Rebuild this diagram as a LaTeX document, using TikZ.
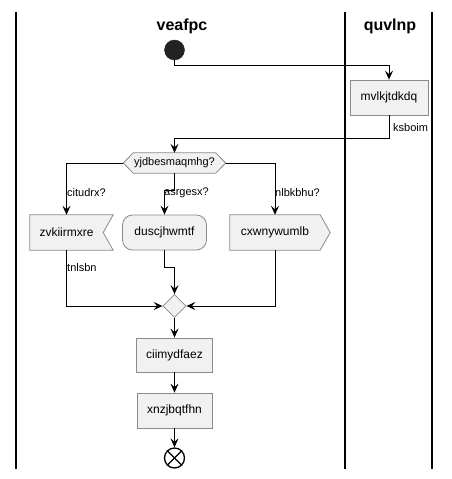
\documentclass[tikz,border=0pt]{standalone}
\usepackage{fontspec}
\setmainfont{Liberation Sans}
\usetikzlibrary{arrows.meta,shapes.geometric,backgrounds}
\definecolor{boxfill}{HTML}{F1F1F1}
\definecolor{boxline}{HTML}{8A8A8A}
\definecolor{startfill}{HTML}{222222}
\tikzset{
  lane/.style={line width=1.4pt,black},
  boxsty/.style={fill=boxfill,draw=boxline,line width=0.8pt},
  actbox/.style={boxsty,rectangle,inner sep=0pt,font=\fontsize{12}{14}\selectfont},
  txtbox/.style={rectangle,inner sep=0pt,font=\fontsize{12}{14}\selectfont},
  lbl/.style={font=\fontsize{11}{13}\selectfont,inner sep=0pt,anchor=west},
  title/.style={font=\bfseries\fontsize{16}{18}\selectfont,inner sep=0pt},
  arr/.style={line width=0.9pt,-{Stealth[length=9pt,width=8pt,inset=3.5pt]}},
}
\begin{document}
\begin{tikzpicture}[x=1pt,y=-1pt]
\useasboundingbox (0,0) rectangle (451,479);
% swimlanes
\draw[lane] (16,12) -- (16,469);
\draw[lane] (345,12) -- (345,469);
\draw[lane] (432,12) -- (432,469);
\node[title] (t1) at (182,26) {veafpc};
\node[title] (t2) at (390,26) {quvlnp};
% nodes
\node[circle,fill=startfill,draw=startfill,minimum size=20pt,inner sep=0pt] (start) at (174.5,50) {};
\node[actbox,minimum width=78pt,minimum height=35pt] (mvl) at (389,97.5) {mvlkjtdkdq};
\node[txtbox,minimum width=102pt,minimum height=20pt,font=\fontsize{11}{13}\selectfont] (dec) at (174.5,163) {yjdbesmaqmhg?};
\node[txtbox,minimum width=73pt,minimum height=35pt] (zvk) at (66.5,232.5) {zvkiirmxre};
\node[actbox,rounded corners=10pt,minimum width=84pt,minimum height=35pt] (dus) at (164.5,232.5) {duscjhwmtf};
\node[txtbox,minimum width=90pt,minimum height=35pt] (cxw) at (275,232.5) {cxwnywumlb};
\node[diamond,boxsty,minimum width=23pt,minimum height=23pt,inner sep=0pt] (merge) at (174.5,306) {};
\node[actbox,minimum width=76pt,minimum height=34pt] (ciim) at (174.5,355) {ciimydfaez};
\node[actbox,minimum width=75pt,minimum height=35pt] (xnz) at (174.5,410.5) {xnzjbqtfhn};
\node[circle,draw=black,line width=1.3pt,minimum size=20pt,inner sep=0pt] (end) at (174.5,458) {};
\draw[line width=1.3pt] (end.north west) -- (end.south east) (end.north east) -- (end.south west);
% custom outlines
\begin{pgfonlayer}{background}
\draw[boxsty] (dec.west) -- ([xshift=10pt]dec.north west) -- ([xshift=-10pt]dec.north east) -- (dec.east) -- ([xshift=-10pt]dec.south east) -- ([xshift=10pt]dec.south west) -- cycle;
\draw[boxsty] (zvk.north west) -- ([xshift=10pt]zvk.north east) -- (zvk.east) -- ([xshift=10pt]zvk.south east) -- (zvk.south west) -- cycle;
\draw[boxsty] (cxw.north west) -- (cxw.north east) -- ([xshift=10pt]cxw.east) -- (cxw.south east) -- (cxw.south west) -- cycle;
\end{pgfonlayer}
% connectors
\draw[arr] (start.south) -- ++(0,5) -| (mvl.north);
\draw[arr] (mvl.south) -- ++(0,23) coordinate (k1) -| (dec.north);
\node[lbl] (lk) at (393,128) {ksboim};
\draw[arr] (dec.west) -| (zvk.north);
\node[lbl] (l1) at (67,193) {citudrx?};
\draw[arr] (dec.south) -- ++(0,17) -| (dus.north);
\node[lbl] (l2) at (164,193) {asrgesx?};
\draw[arr] (dec.east) -| (cxw.north);
\node[lbl] (l3) at (275,193) {nlbkbhu?};
\draw[arr] (zvk.south) |- (merge.west);
\node[lbl] (l4) at (67,268) {tnlsbn};
\draw[arr] (dus.south) -- ++(0,17) -| (merge.north);
\draw[arr] (cxw.south) |- (merge.east);
\draw[arr] (merge.south) -- (ciim.north);
\draw[arr] (ciim.south) -- (xnz.north);
\draw[arr] (xnz.south) -- (end.north);
\end{tikzpicture}
\end{document}
